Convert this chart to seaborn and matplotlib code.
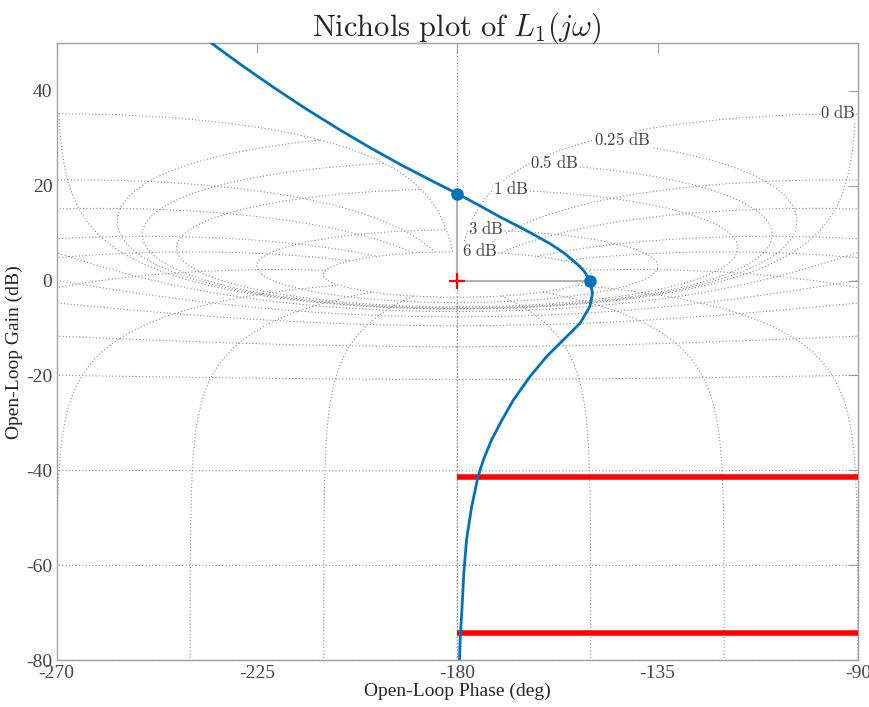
import matplotlib
matplotlib.use("Agg")
import matplotlib.pyplot as plt
import numpy as np
import seaborn as sns

# open-loop response L1(jw) (phase deg, gain dB)
phase_deg = [-236.7, -235.5, -228.8, -221.6, -214.2, -206.3, -199.6, -192.9, -186.1, -180.0,
             -175.2, -170.4, -164.8, -159.2, -156.0, -153.2, -151.5, -150.2, -149.6, -150.2,
             -152.4, -155.4, -159.9, -163.7, -167.4, -170.0, -172.3, -174.0, -175.3, -176.8,
             -177.9, -178.5, -178.9, -179.3, -179.5]
gain_db = [51.0, 50.2, 45.6, 40.9, 36.3, 31.7, 28.0, 24.5, 21.2, 18.3,
           15.9, 13.4, 10.7, 7.8, 5.8, 3.6, 2.0, 0.0, -2.7, -5.5,
           -9.0, -11.8, -16.0, -20.3, -25.2, -29.5, -33.6, -37.5, -41.2, -47.9,
           -54.6, -61.5, -68.7, -75.0, -80.5]

gm_phase, gm_gain = -180.0, 18.3     # crossing of -180 deg
pm_phase, pm_gain = -150.2, 0.0      # gain crossover
bound_gains = [-41.3, -74.2]         # red horizontal bounds
bound_phase = [-180.0, -90.0]

# Nichols grid (closed-loop gain dB / closed-loop phase deg)
grid_m_db = [6, 3, 1, 0.5, 0.25, 0, -1, -3, -6, -12, -20, -40, -60, -80, -100, -120]
grid_n_deg = [-1, -5, -10, -20, -30, -50, -90, -120, -150, -180]
label_m_db = [6, 3, 1, 0.5, 0.25, 0]

xticks = [-270, -225, -180, -135, -90]
yticks = [-80, -60, -40, -20, 0, 20, 40]

sns.set_theme(style="white")
plt.rcParams["font.family"] = ["Liberation Serif", "DejaVu Serif"]
plt.rcParams["mathtext.fontset"] = "cm"
plt.rcParams["axes.unicode_minus"] = False


def to_nichols(t):
    g = t / (1 - t)
    ph = np.degrees(np.angle(g))
    ph = np.where(ph > 0, ph - 360, ph)
    return ph, 20 * np.log10(np.abs(g))


fig = plt.figure(figsize=(8.7, 7.07), dpi=100)
ax = fig.add_axes([0.065, 0.066, 0.921, 0.873])

grid_kw = dict(color="#8c8c8c", lw=0.8, ls=(0, (1, 2)), zorder=1)
theta = np.radians(np.linspace(-1, -359, 3000))
for m in grid_m_db:
    ph, gdb = to_nichols(10 ** (m / 20) * np.exp(1j * theta))
    ax.plot(ph, gdb, **grid_kw)

mags = 10 ** (np.linspace(-120, 6, 3000) / 20)
for n in grid_n_deg:
    for th in {n, -360 - n}:
        ph, gdb = to_nichols(mags * np.exp(1j * np.radians(th)))
        ax.plot(ph, gdb, **grid_kw)
ax.axvline(-180, **grid_kw)

for m in label_m_db:
    ph, gdb = to_nichols(10 ** (m / 20) * np.exp(1j * np.radians(-1)))
    ha = "right" if m == 0 else "left"
    ax.text(float(ph), float(gdb), rf"$\mathrm{{{m:g}\ dB}}$", ha=ha, va="center",
            fontsize=12, color="#404040", zorder=2,
            bbox=dict(fc="white", ec="none", pad=0.3))

# margin guides
ax.plot([gm_phase, gm_phase], [0, gm_gain], color="#b3b3b3", lw=1.5, zorder=3)
ax.plot([gm_phase, pm_phase], [0, 0], color="#b3b3b3", lw=1.5, zorder=3)

for b in bound_gains:
    ax.plot(bound_phase, [b, b], color="red", lw=4, solid_capstyle="butt", zorder=4)

sns.lineplot(x=phase_deg, y=gain_db, sort=False, estimator=None, color="#0072BD",
             lw=2, ax=ax, zorder=5)
ax.plot([gm_phase, pm_phase], [gm_gain, pm_gain], "o", color="#0072BD", ms=8, zorder=6)
ax.plot([-180], [0], "+", color="red", ms=11, mew=1.6, zorder=6)

ax.set_xlim(-270, -90)
ax.set_ylim(-80, 50)
ax.set_xticks(xticks)
ax.set_yticks(yticks)
ax.tick_params(direction="in", length=7, width=0.8, top=True, right=True,
               labelsize=14, colors="#a0a0a0", labelcolor="#454545", pad=3)
for s in ax.spines.values():
    s.set_color("#a0a0a0")
    s.set_linewidth(1.0)

ax.set_xlabel("Open-Loop Phase (deg)", fontsize=14, labelpad=1)
ax.set_ylabel("Open-Loop Gain (dB)", fontsize=14, labelpad=2)
ax.set_title(r"$\mathrm{Nichols\ plot\ of\ }L_1(j\omega)$", fontsize=22, pad=5)

fig.savefig("out.png", dpi=100)
